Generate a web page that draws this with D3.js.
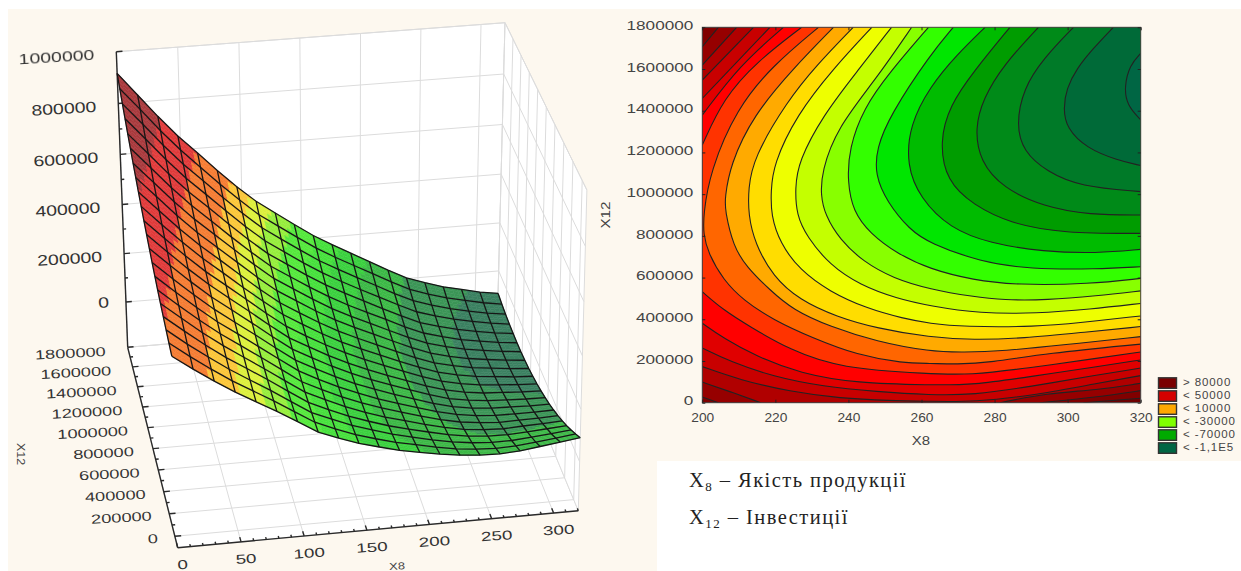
<!DOCTYPE html>
<html>
<head>
<meta charset="utf-8">
<script src="https://cdn.jsdelivr.net/npm/d3@7"></script>
<style>
html, body { margin: 0; padding: 0; background: #fff; }
svg { display: block; filter: blur(0.45px); }
text { font-family: "Liberation Sans", Arial, sans-serif; }
</style>
</head>
<body>
<svg id="chart" width="1241" height="571"></svg>
<script>
// ---- surface plot data (left) ----
const surfaceX8 = [0, 16, 32, 48, 64, 80, 96, 112, 128, 144, 160, 176, 192, 208, 224, 240, 256, 272, 288, 304, 320];
const surfaceX12 = [-100000, -5000, 90000, 185000, 280000, 375000, 470000, 565000, 660000, 755000, 850000, 945000, 1040000, 1135000, 1230000, 1325000, 1420000, 1515000, 1610000, 1705000, 1800000];
// height, in thousandths of the z axis box height; one row per X8 value
const surfaceHeight = [
    [628, 637, 646, 656, 666, 677, 689, 702, 716, 730, 744, 760, 776, 793, 810, 829, 847, 867, 887, 908, 930],
    [580, 587, 594, 603, 612, 621, 632, 643, 655, 668, 681, 695, 710, 726, 742, 760, 777, 796, 816, 836, 855],
    [535, 540, 546, 552, 559, 567, 576, 586, 596, 607, 619, 632, 645, 659, 674, 690, 706, 724, 742, 761, 780],
    [493, 496, 500, 505, 511, 517, 524, 532, 541, 551, 561, 573, 585, 597, 611, 626, 641, 657, 674, 692, 710],
    [455, 457, 459, 463, 467, 472, 478, 484, 492, 500, 510, 520, 531, 542, 555, 568, 583, 598, 614, 630, 648],
    [418, 418, 419, 421, 423, 427, 431, 437, 443, 450, 458, 466, 476, 487, 498, 510, 524, 538, 553, 568, 585],
    [378, 377, 376, 377, 378, 381, 384, 388, 393, 399, 406, 414, 422, 432, 443, 454, 466, 480, 494, 509, 525],
    [338, 336, 334, 334, 334, 335, 338, 341, 345, 350, 357, 364, 372, 381, 391, 401, 413, 426, 440, 454, 470],
    [312, 308, 306, 304, 303, 303, 304, 307, 310, 314, 319, 325, 332, 341, 350, 360, 371, 383, 396, 410, 425],
    [288, 283, 279, 276, 274, 273, 273, 274, 276, 279, 283, 288, 294, 301, 310, 319, 329, 340, 353, 366, 380],
    [270, 263, 258, 253, 249, 247, 246, 245, 246, 248, 251, 254, 259, 265, 272, 281, 290, 300, 311, 324, 337],
    [253, 245, 238, 232, 227, 224, 221, 220, 219, 220, 222, 225, 229, 234, 240, 247, 256, 265, 276, 287, 300],
    [240, 231, 222, 215, 209, 204, 200, 197, 196, 195, 196, 198, 201, 205, 210, 216, 224, 232, 242, 253, 265],
    [228, 217, 207, 199, 191, 185, 180, 176, 173, 171, 171, 171, 173, 176, 180, 186, 192, 200, 209, 219, 230],
    [218, 205, 194, 184, 175, 167, 160, 155, 151, 148, 146, 146, 146, 148, 151, 155, 161, 168, 175, 185, 195],
    [212, 198, 185, 173, 162, 153, 145, 138, 132, 128, 125, 123, 122, 123, 125, 128, 132, 138, 145, 153, 162],
    [210, 194, 180, 167, 155, 145, 135, 127, 121, 115, 111, 108, 107, 106, 107, 110, 113, 118, 124, 131, 140],
    [213, 196, 180, 166, 152, 140, 130, 121, 113, 106, 101, 97, 94, 93, 93, 94, 97, 101, 106, 112, 120],
    [221, 202, 185, 169, 155, 141, 129, 119, 110, 102, 95, 90, 87, 84, 83, 83, 85, 88, 92, 98, 105],
    [229, 209, 190, 173, 157, 142, 129, 117, 107, 98, 90, 84, 79, 76, 74, 73, 74, 76, 79, 84, 90],
    [237, 216, 196, 177, 160, 144, 130, 117, 106, 96, 87, 80, 74, 70, 67, 66, 66, 67, 70, 74, 80]
];
const surfaceBandLimits = [100, 165, 235, 285, 330, 385, 435, 485, 545, 650, 770];
const surfaceBandColors = ["#3a8060", "#3b9556", "#3cb846", "#3bd03f", "#46e03c", "#55e83c", "#96ee3c", "#dcf03c", "#fbc639", "#f57c33", "#e03a3a", "#a8393c"];

const zTicks = [0, 200000, 400000, 600000, 800000, 1000000];
const x8Ticks3d = [0, 50, 100, 150, 200, 250, 300];
const x12Ticks3d = [0, 200000, 400000, 600000, 800000, 1000000, 1200000, 1400000, 1600000, 1800000];

// ---- contour plot data (right) ----
const x8Ticks = [200, 220, 240, 260, 280, 300, 320];
const x12Ticks = [0, 200000, 400000, 600000, 800000, 1000000, 1200000, 1400000, 1600000, 1800000];

// each contour line is a list of parts, each part [x8, x12 in thousands]
const contourLines = [
    [[[320,1675],[317,1619],[315.5,1515],[316.2,1427],[320,1356]]],
    [[[312.5,1800],[307,1699],[302.5,1603],[299.7,1507],[298.8,1411],[299.7,1316],[305.2,1220],[313.4,1164],[320,1137]]],
    [[[301.6,1800],[293.4,1651],[287.9,1507],[285.9,1332],[287.9,1204],[294.3,1108],[303.4,1036],[320,1012]]],
    [[[292,1800],[282.4,1619],[276.9,1459],[274.6,1316],[276,1156],[282.4,1028],[293.4,940],[306.1,900],[320,900]]],
    [[[284.2,1800],[274.2,1587],[267.8,1427],[264.9,1252],[266.9,1060],[274.2,948],[284.2,860],[298.8,812],[320,812]]],
    [[[277.4,1800],[269.6,1667],[262.3,1515],[256.8,1332],[255.9,1140],[259.6,980],[267.8,836],[278.7,764],[293.4,724],[307.9,716],[320,735]]],
    [[[268.7,1800],[262.3,1667],[251.4,1379],[247.7,1220],[247.3,1092],[250.5,964],[256.8,828],[262.3,764],[276,676],[289.7,640],[307.9,640],[320,652]]],
    [[[261.9,1800],[251.4,1587],[244.1,1411],[240.2,1220],[239.7,1060],[241.3,916],[245.9,812],[253.2,716],[262.3,640],[274.2,588],[286,564],[306.1,569],[320,596]]],
    [[[257.3,1800],[247.7,1555],[236.8,1316],[232.7,1108],[232.4,996],[233.6,900],[237.7,780],[244.1,676],[252.3,596],[262.3,544],[274.2,508],[282.4,492],[294.3,492],[307.9,512],[320,536]]],
    [[[251.8,1800],[242.3,1587],[233.1,1379],[226.3,1156],[225.4,1028],[225.8,900],[228.6,796],[234.9,660],[243.2,564],[253.2,500],[262.3,464],[276,428],[291.5,428],[306.1,448],[320,476]]],
    [[[246.4,1800],[235.9,1603],[225.8,1379],[219.4,1140],[218.8,1012],[218.8,900],[221.3,764],[226.7,636],[234.9,532],[245,452],[255,404],[262.3,380],[271.4,364],[291.5,364],[303.4,384],[320,416]]],
    [[[241.3,1800],[231.3,1619],[223.1,1443],[214,1172],[212.6,1028],[212.6,900],[214.4,764],[219.4,604],[226.7,492],[236.8,412],[247.7,357],[262.3,313],[274.2,301],[287.9,309],[303.4,336],[320,365]]],
    [[[235.9,1800],[224.9,1603],[214,1379],[207.6,1140],[206.2,980],[206.2,924],[208.5,748],[212.1,652],[218.5,540],[224.9,444],[234.9,365],[247.7,293],[262.3,245],[271.4,241],[282.4,248],[298.8,277],[320,317]]],
    [[[231.8,1800],[219.4,1619],[209.4,1411],[202.1,1108],[200.3,900],[200.3,809],[201.6,716],[205.8,588],[211.2,492],[219.4,397],[230.4,309],[242.3,229],[255,189],[262.3,189],[269.6,184],[278.7,192],[294.3,237],[320,281]]],
    [[[227.2,1800],[214.9,1635],[205.8,1459],[200,1236]], [[200,532],[205.8,444],[213,365],[224,253],[237.7,165],[262.3,138],[273.3,133],[288.8,165],[308,213],[320,243]]],
    [[[222.2,1800],[210.3,1619],[200,1379]], [[200,381],[205.8,309],[214.9,221],[226.7,141],[242.3,93],[262.3,85],[274.2,85],[289.7,125],[308,173],[320,205]]],
    [[[218.5,1800],[200,1459]], [[200,262],[207.6,197],[219.4,125],[233.1,77],[247.7,53],[262.3,37],[274.2,37],[289.7,77],[308,133],[320,166]]],
    [[[214,1800],[200,1547]], [[200,173],[210.3,109],[224,53],[237.7,21],[251.4,10],[262.3,7],[274.2,3],[291.5,37],[308,93],[320,130]]],
    [[[209.4,1800],[200,1619]], [[200,99],[207.6,53],[216,0]], [[281.5,0],[294.3,45],[308,61],[320,93]]],
    [[[204.4,1800],[200,1707]], [[200,27],[204.4,0]], [[292.4,0],[308,26],[320,58]]],
    [[[304.3,0],[320,21]]]
];
const contourColors = ["#006644", "#006a38", "#007a28", "#008a18", "#009c00", "#00bb00", "#00e600", "#33ff00", "#88ff00", "#c4ff00", "#eeff00", "#ffdd00", "#ffaa00", "#ff6600", "#ff3300", "#ff0000", "#e00000", "#c80000", "#b00000", "#960000", "#800000"];
const contourBase = "#6e0000";

const legendLabels = ["> 80000", "< 50000", "< 10000", "< -30000", "< -70000", "< -1,1E5"];
const legendColors = ["#7a0000", "#d40000", "#ffa800", "#80ff00", "#00aa00", "#006644"];

const svg = d3.select("#chart");

// background: cream sheet with the white note area cut out
svg.append("rect").attr("x", 8).attr("y", 9).attr("width", 1233).attr("height", 562).attr("fill", "#fdf8ef");
svg.append("rect").attr("x", 657).attr("y", 461).attr("width", 584).attr("height", 110).attr("fill", "#fff");

function stretchedText(g, x, y, str, size, sx, rot, anchor, color) {
    g.append("text")
        .attr("transform", "translate(" + x + "," + y + ") rotate(" + rot + ") scale(" + sx + ",1)")
        .attr("text-anchor", anchor)
        .attr("dy", "0.35em")
        .attr("font-size", size)
        .attr("fill", color)
        .text(str);
}

// ---------- 3D surface ----------
const g3d = svg.append("g");

const uScale = d3.scaleLinear().domain([0, 320]).range([0, 1]);
const vScale = d3.scaleLinear().domain([-100000, 1800000]).range([0, 1]);
const tScale = d3.scaleLinear().domain([-190000, 1000000]).range([0, 1]);
const hScale = d3.scaleLinear().domain([0, 1000]).range([0, 1]);

// perspective of the box: corner positions and their homogeneous weights
const cornerO = [177.7, 547.7], cornerU = [578.3, 510.7], cornerV = [127.7, 347.3], cornerT = [168.06, 236.4];
const weightU = 1.0144, weightV = 1.0863, weightT = 0.947;

function projectBox(u, v, t) {
    let den = 1 + u * (weightU - 1) + v * (weightV - 1) + t * (weightT - 1);
    let res = [0, 1].map(function (i) {
        return (cornerO[i] + u * (weightU * cornerU[i] - cornerO[i]) + v * (weightV * cornerV[i] - cornerO[i]) + t * (weightT * cornerT[i] - cornerO[i])) / den;
    });
    // small correction so the front top corner of the right wall lands where it is drawn
    res[0] -= 4 * u * (1 - v) * t;
    res[1] -= 12 * u * (1 - v) * t;
    return res;
}
function project(x8, x12, z) {
    return projectBox(uScale(x8), vScale(x12), tScale(z));
}

const zMin = tScale.domain()[0], zMax = tScale.domain()[1];
const x12Min = vScale.domain()[0], x12Max = vScale.domain()[1];
const x8Max = uScale.domain()[1];
const polyLine = d3.line();

// walls and floor
const walls = [
    [project(0, x12Min, zMin), project(x8Max, x12Min, zMin), project(x8Max, x12Max, zMin), project(0, x12Max, zMin)],
    [project(0, x12Max, zMin), project(x8Max, x12Max, zMin), project(x8Max, x12Max, zMax), project(0, x12Max, zMax)],
    [project(x8Max, x12Max, zMin), project(x8Max, x12Min, zMin), project(x8Max, x12Min, zMax), project(x8Max, x12Max, zMax)]
];
g3d.selectAll(".wall").data(walls).enter().append("path")
    .attr("d", function (d) { return polyLine(d) + "Z"; })
    .attr("fill", "#fff").attr("stroke", "#dcdcdc").attr("stroke-width", 1);

const gridLines = [];
x8Ticks3d.forEach(function (x) {
    gridLines.push([project(x, x12Min, zMin), project(x, x12Max, zMin)]);
    gridLines.push([project(x, x12Max, zMin), project(x, x12Max, zMax)]);
});
x12Ticks3d.forEach(function (y) {
    gridLines.push([project(0, y, zMin), project(x8Max, y, zMin)]);
    gridLines.push([project(x8Max, y, zMin), project(x8Max, y, zMax)]);
});
zTicks.forEach(function (z) {
    gridLines.push([project(0, x12Max, z), project(x8Max, x12Max, z)]);
    gridLines.push([project(x8Max, x12Max, z), project(x8Max, x12Min, z)]);
});
g3d.selectAll(".grid3d").data(gridLines).enter().append("path")
    .attr("d", polyLine).attr("fill", "none").attr("stroke", "#dcdcdc").attr("stroke-width", 1);

// axes
const axisLines = [
    [project(0, x12Max, zMin), project(0, x12Max, zMax)],
    [project(0, x12Min, zMin), project(0, x12Max, zMin)],
    [project(0, x12Min, zMin), project(x8Max, x12Min, zMin)]
];
for (let z = 0; z <= 1000000; z += 100000) {
    let len = z % 200000 === 0 ? 5 : 2.5;
    axisLines.push([project(0, x12Max, z), project(len, x12Max, z)]);
}
for (let y = 0; y <= 1800000; y += 100000) {
    let len = y % 200000 === 0 ? 5 : 2.5;
    axisLines.push([project(0, y, zMin), project(len, y, zMin)]);
}
for (let x = 0; x <= 320; x += 10) {
    let len = x % 50 === 0 ? 42000 : 21000;
    axisLines.push([project(x, x12Min, zMin), project(x, x12Min + len, zMin)]);
}
g3d.selectAll(".axis3d").data(axisLines).enter().append("path")
    .attr("d", polyLine).attr("fill", "none").attr("stroke", "#2a2a2a").attr("stroke-width", 1.4);

// surface cells, split so the colour bands can cross a mesh cell
function cellColor(h) {
    return surfaceBandColors[d3.bisectLeft(surfaceBandLimits, h)];
}
const subSteps = 4;
const patches = [];
for (let j = surfaceX12.length - 2; j >= 0; j--) {
    for (let i = 0; i < surfaceX8.length - 1; i++) {
        for (let b = subSteps - 1; b >= 0; b--) {
            for (let a = 0; a < subSteps; a++) {
                let pt = function (fa, fb) {
                    let h = (1 - fa) * (1 - fb) * surfaceHeight[i][j] + fa * (1 - fb) * surfaceHeight[i + 1][j]
                        + (1 - fa) * fb * surfaceHeight[i][j + 1] + fa * fb * surfaceHeight[i + 1][j + 1];
                    let x = surfaceX8[i] + fa * (surfaceX8[i + 1] - surfaceX8[i]);
                    let y = surfaceX12[j] + fb * (surfaceX12[j + 1] - surfaceX12[j]);
                    return { h: h, p: projectBox(uScale(x), vScale(y), hScale(h)) };
                };
                let c = pt((a + 0.5) / subSteps, (b + 0.5) / subSteps);
                patches.push({
                    color: cellColor(c.h),
                    pts: [pt(a / subSteps, b / subSteps).p, pt((a + 1) / subSteps, b / subSteps).p, pt((a + 1) / subSteps, (b + 1) / subSteps).p, pt(a / subSteps, (b + 1) / subSteps).p]
                });
            }
        }
    }
}
g3d.append("g").selectAll("path").data(patches).enter().append("path")
    .attr("d", function (d) { return polyLine(d.pts) + "Z"; })
    .attr("fill", function (d) { return d.color; })
    .attr("stroke", function (d) { return d.color; })
    .attr("stroke-width", 0.5);

// mesh lines
const meshLines = [];
surfaceX8.forEach(function (x, i) {
    meshLines.push(surfaceX12.map(function (y, j) { return projectBox(uScale(x), vScale(y), hScale(surfaceHeight[i][j])); }));
});
surfaceX12.forEach(function (y, j) {
    meshLines.push(surfaceX8.map(function (x, i) { return projectBox(uScale(x), vScale(y), hScale(surfaceHeight[i][j])); }));
});
g3d.append("g").selectAll("path").data(meshLines).enter().append("path")
    .attr("d", polyLine).attr("fill", "none").attr("stroke", "#161616").attr("stroke-width", 1.3);

// 3D tick labels
zTicks.forEach(function (z) {
    let p = project(0, x12Max, z);
    stretchedText(g3d, p[0] + (z === 0 ? -17 : -22), p[1] + (z === 0 ? 0 : 3), d3.format("d")(z), 15, 1.3, -3.5, "end", "#333");
});
x12Ticks3d.forEach(function (y) {
    let p = project(0, y, zMin);
    let f = y / 1800000;
    stretchedText(g3d, p[0] - 17 - 5 * f, p[1] + 2 + 2 * f, d3.format("d")(y), 13, 1.4, -3, "end", "#333");
});
x8Ticks3d.forEach(function (x) {
    let p = project(x, x12Min, zMin);
    stretchedText(g3d, p[0] + 5, p[1] + 17, d3.format("d")(x), 13, 1.45, -4, "middle", "#333");
});
stretchedText(g3d, 397, 566, "X8", 10, 1.3, -3, "middle", "#444");
g3d.append("text").attr("transform", "translate(21,454) rotate(90) scale(1.25,1)")
    .attr("text-anchor", "middle").attr("dy", "0.35em").attr("font-size", 10).attr("fill", "#444").text("X12");

// ---------- contour plot ----------
const plotLeft = 702.3, plotRight = 1140.7, plotTop = 27.3, plotBottom = 402.7;
const xScale = d3.scaleLinear().domain([200, 320]).range([plotLeft, plotRight]);
const yScale = d3.scaleLinear().domain([0, 1800000]).range([plotBottom, plotTop]);
const gC = svg.append("g");

svg.append("defs").append("clipPath").attr("id", "plotClip").append("rect")
    .attr("x", plotLeft).attr("y", plotTop).attr("width", plotRight - plotLeft).attr("height", plotBottom - plotTop);

// basis curve evens out small reading errors in the traced points
const isoLine = d3.line()
    .x(function (d) { return xScale(d[0]); })
    .y(function (d) { return yScale(d[1] * 1000); })
    .curve(d3.curveBasis);

const bands = gC.append("g").attr("clip-path", "url(#plotClip)");
bands.append("rect").attr("x", plotLeft).attr("y", plotTop).attr("width", plotRight - plotLeft).attr("height", plotBottom - plotTop).attr("fill", contourBase);

// paint from the outermost line inwards, each region lies to the inner side of its line
for (let n = contourLines.length - 1; n >= 0; n--) {
    let d = "";
    if (n === contourLines.length - 1)
        d = "M" + xScale(200) + "," + yScale(1800000) + "L" + xScale(200) + "," + yScale(0) + "L" + xScale(contourLines[n][0][0][0]) + "," + yScale(0);
    contourLines[n].forEach(function (part, idx) {
        let s = isoLine(part);
        d += (idx === 0 && d === "") ? s : s.replace(/^M/, "L");
    });
    if (n > 0)
        d += "L" + xScale(320) + "," + yScale(1800000);
    d += "Z";
    bands.append("path").attr("d", d).attr("fill", contourColors[n]);
}

const lineParts = [];
contourLines.forEach(function (line) {
    line.forEach(function (part) { lineParts.push(part); });
});
bands.selectAll(".iso").data(lineParts).enter().append("path")
    .attr("d", isoLine).attr("fill", "none").attr("stroke", "#222").attr("stroke-width", 1.1);

gC.append("rect").attr("x", plotLeft).attr("y", plotTop).attr("width", plotRight - plotLeft).attr("height", plotBottom - plotTop)
    .attr("fill", "none").attr("stroke", "#444").attr("stroke-width", 1);

// axes: labelled ticks plus small inward ticks on every side
const axisL = gC.append("g").attr("transform", "translate(" + plotLeft + ",0)")
    .call(d3.axisLeft(yScale).tickValues(x12Ticks).tickSize(-3).tickFormat(d3.format("d")));
const axisB = gC.append("g").attr("transform", "translate(0," + plotBottom + ")")
    .call(d3.axisBottom(xScale).tickValues(x8Ticks).tickSize(-3).tickFormat(d3.format("d")));
gC.append("g").attr("transform", "translate(" + plotRight + ",0)")
    .call(d3.axisRight(yScale).tickValues(x12Ticks).tickSize(-3).tickFormat(""));
gC.append("g").attr("transform", "translate(0," + plotTop + ")")
    .call(d3.axisTop(xScale).tickValues(x8Ticks).tickSize(-3).tickFormat(""));
gC.selectAll(".domain").remove();
gC.selectAll(".tick line").attr("stroke", "#222");

axisL.selectAll("text")
    .attr("x", 0).attr("dy", "0.32em")
    .attr("transform", "translate(-9,-2) scale(1.32,1)")
    .attr("text-anchor", "end").attr("font-size", 13).attr("fill", "#444");
axisB.selectAll("text")
    .attr("y", 0).attr("dy", "0.32em")
    .attr("transform", "translate(0,15) scale(1.1,1)")
    .attr("text-anchor", "middle").attr("font-size", 12.5).attr("fill", "#444");

stretchedText(gC, 921, 440, "X8", 13, 1.15, 0, "middle", "#444");
stretchedText(gC, 605, 215, "X12", 13, 1.17, -90, "middle", "#444");

// legend
const legendY = d3.scalePoint().domain(legendLabels).range([383, 448]);
const legend = gC.selectAll(".legend").data(legendLabels).enter().append("g");
legend.append("rect")
    .attr("x", 1158.5).attr("width", 18).attr("height", 10.5)
    .attr("y", function (d) { return legendY(d) - 5.2; })
    .attr("fill", function (d, i) { return legendColors[i]; })
    .attr("stroke", "#333").attr("stroke-width", 1.4);
legend.append("text")
    .attr("x", 1183).attr("dy", "0.35em")
    .attr("y", function (d) { return legendY(d) - 1; })
    .attr("font-size", 11.5).attr("letter-spacing", 0.9).attr("fill", "#444")
    .text(function (d) { return d; });

// note under the contour plot
const noteLines = [
    { sub: "8", text: " \u2013 \u042F\u043A\u0456\u0441\u0442\u044C \u043F\u0440\u043E\u0434\u0443\u043A\u0446\u0456\u0457", y: 487 },
    { sub: "12", text: " \u2013 \u0406\u043D\u0432\u0435\u0441\u0442\u0438\u0446\u0456\u0457", y: 524 }
];
noteLines.forEach(function (n) {
    let t = svg.append("text").attr("x", 689).attr("y", n.y)
        .attr("font-size", 20.5).attr("fill", "#222").attr("letter-spacing", 1.45)
        .style("font-family", "'Liberation Serif', serif");
    t.append("tspan").text("X");
    t.append("tspan").attr("dy", 4).attr("font-size", 13).text(n.sub);
    t.append("tspan").attr("dy", -4).text(n.text);
});
</script>
</body>
</html>
